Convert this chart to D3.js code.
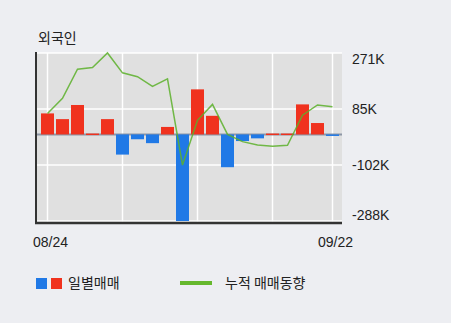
<!DOCTYPE html>
<html><head><meta charset="utf-8">
<script src="https://cdn.jsdelivr.net/npm/d3@7"></script>
<style>
html,body{margin:0;padding:0;background:#edeef2;}
svg{display:block;}
</style></head>
<body>
<svg id="c" width="451" height="323"></svg>
<script>
const dates = ["08/24","08/25","08/26","08/29","08/30","08/31","09/01","09/02","09/05","09/06",
               "09/07","09/08","09/13","09/14","09/15","09/16","09/19","09/20","09/21","09/22"];
const daily = [70, 51, 98, 3, 51, -67, -16, -29, 25, -288, 150, 62, -109, -22, -13, 3, 3, 100, 38, -5];
const cumulative = [70, 120, 217, 223, 271, 205, 192, 160, 185, -102, 47, 100, 0, -24, -35, -39, -36, 64, 98, 92];
const tickValues = [271, 85, -102, -288];
const tickLabels = ["271K", "85K", "-102K", "-288K"];
const xLabels = ["08/24", "09/22"];
const gridDates = ["08/24","08/31","09/07","09/16","09/22"];

const svg = d3.select("#c");
const L = 36, R = 342, T = 53, B = 221;

const x = d3.scalePoint().domain(dates).range([47.5, 332.5]);
const y = d3.scaleLinear().domain([-288, 271]).range([B, T]);
const bw = 13;

// plot background
svg.append("rect").attr("x", L).attr("y", T).attr("width", R - L).attr("height", B - T + 2).attr("fill", "#e0e0e0");

// horizontal grid
svg.selectAll(".hg").data(tickValues).enter().append("line")
  .attr("x1", L).attr("x2", R).attr("y1", d => y(d)).attr("y2", d => y(d))
  .attr("stroke", "#ffffff").attr("stroke-width", 1.5);
// vertical grid
svg.selectAll(".vg").data(gridDates).enter().append("line")
  .attr("x1", d => x(d)).attr("x2", d => x(d)).attr("y1", T).attr("y2", B + 1)
  .attr("stroke", "#ffffff").attr("stroke-width", 1.5);

// zero line
svg.append("line").attr("x1", L).attr("x2", R).attr("y1", y(0)).attr("y2", y(0))
  .attr("stroke", "#7f8a9c").attr("stroke-width", 2).attr("opacity", 0.85);

// bars
svg.selectAll(".bar").data(daily).enter().append("rect")
  .attr("x", (d, i) => x(dates[i]) - bw / 2)
  .attr("width", bw)
  .attr("y", d => d >= 0 ? y(d) : y(0))
  .attr("height", d => Math.max(1.5, Math.abs(y(d) - y(0))))
  .attr("fill", d => d >= 0 ? "#f0321e" : "#2079e6");

// cumulative line
const line = d3.line().x((d, i) => x(dates[i])).y(d => y(d));
svg.append("path").datum(cumulative).attr("d", line)
  .attr("fill", "none").attr("stroke", "#5cb02a").attr("stroke-width", 1.5).attr("opacity", 0.85);

// axes lines
svg.append("line").attr("x1", L).attr("x2", L).attr("y1", T - 1).attr("y2", B + 2)
  .attr("stroke", "#333").attr("stroke-width", 2);
svg.append("line").attr("x1", L - 1).attr("x2", R).attr("y1", B + 2).attr("y2", B + 2)
  .attr("stroke", "#333").attr("stroke-width", 2.5);

const numFont = "'Liberation Sans', Arial, sans-serif";
// y labels
svg.selectAll(".yl").data(tickValues).enter().append("text")
  .attr("x", 352)
  .attr("y", d => Math.min(215, Math.max(59, y(d))))
  .attr("dy", "0.35em")
  .attr("font-family", numFont).attr("font-size", 14).attr("fill", "#222")
  .text((d, i) => tickLabels[i]);

// x labels
svg.selectAll(".xl").data(xLabels).enter().append("text")
  .attr("x", d => x(d) + 3).attr("y", 242).attr("dy", "0.35em")
  .attr("text-anchor", "middle")
  .attr("font-family", numFont).attr("font-size", 14).attr("fill", "#222")
  .text(d => d);

const krFont = "'Noto Sans CJK KR', sans-serif";
// title
svg.append("text").attr("x", 38).attr("y", 38).attr("dy", "0.35em")
  .attr("font-family", krFont).attr("font-size", 14).attr("fill", "#222").text("외국인");

// legend
svg.append("rect").attr("x", 36).attr("y", 278).attr("width", 11).attr("height", 11).attr("fill", "#2079e6");
svg.append("rect").attr("x", 51).attr("y", 278).attr("width", 11).attr("height", 11).attr("fill", "#f0321e");
svg.append("text").attr("x", 68).attr("y", 283.5).attr("dy", "0.35em")
  .attr("font-family", krFont).attr("font-size", 14).attr("fill", "#222").text("일별매매");
svg.append("line").attr("x1", 180).attr("x2", 212).attr("y1", 283).attr("y2", 283)
  .attr("stroke", "#66b82e").attr("stroke-width", 4);
svg.append("text").attr("x", 225).attr("y", 283.5).attr("dy", "0.35em")
  .attr("font-family", krFont).attr("font-size", 14).attr("fill", "#222").text("누적 매매동향");
</script>
</body></html>
